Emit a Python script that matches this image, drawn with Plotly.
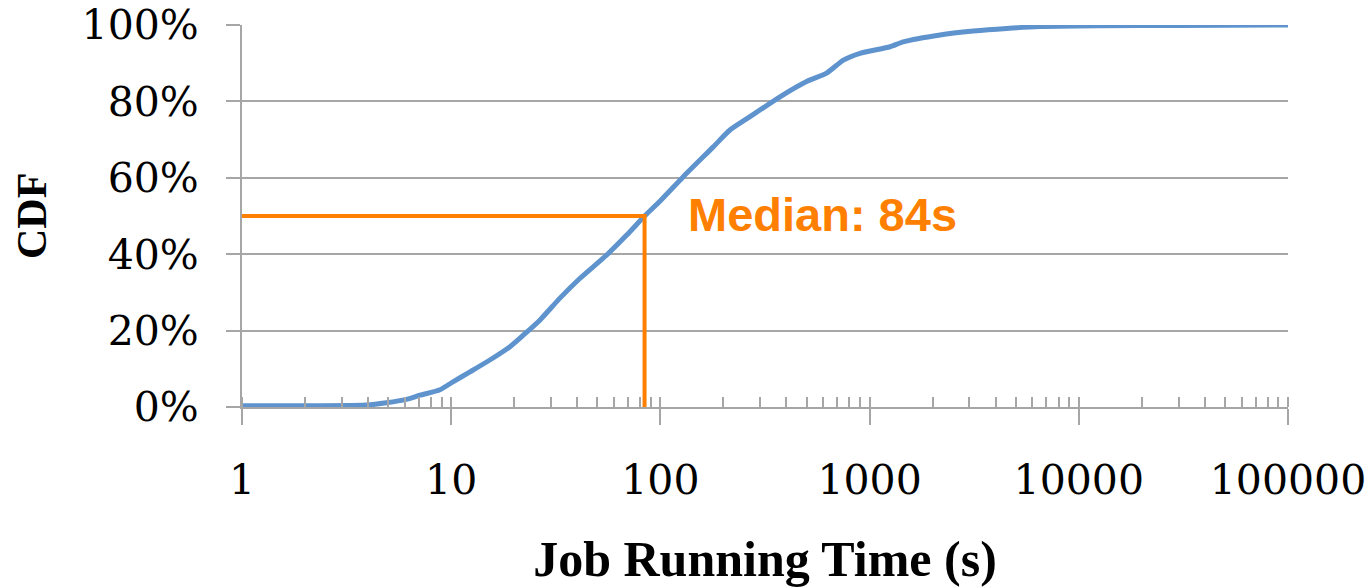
import plotly.graph_objects as go

# job running time (s) vs CDF
run_time = [1, 3.95, 4.9, 6.1, 7.1, 8.84, 10.2, 12.3, 15.3, 19.1, 22.1, 26.6, 33.1, 41.3,
            55.4, 69, 84, 100, 128.7, 179, 215, 268, 373, 500, 623, 749, 900, 1253,
            1449, 2173, 3131, 4520, 6530, 12600, 30000, 100000]
cdf = [0.003, 0.005, 0.011, 0.02, 0.031, 0.045, 0.066, 0.092, 0.123, 0.158, 0.188, 0.228,
       0.285, 0.337, 0.398, 0.45, 0.5, 0.54, 0.603, 0.681, 0.725, 0.76, 0.812, 0.852,
       0.874, 0.908, 0.926, 0.943, 0.956, 0.974, 0.984, 0.991, 0.996, 0.998, 0.999, 1.0]

median_s = 84
median_cdf = 0.5
x_min = 1
tick_vals = [1, 10, 100, 1000, 10000, 100000]
tick_text = ["1", "10", "100", "1000", "10000", "100000"]

BLUE = "#5E93CD"
ORANGE = "#FF8000"
GRAY = "#A6A6A6"
TICK_FONT = dict(family="DejaVu Serif", size=41, color="black")
TITLE_FONT = dict(family="Liberation Serif", size=50, color="black")

fig = go.Figure()
fig.add_trace(go.Scatter(x=run_time, y=cdf, mode="lines",
                         line=dict(color=BLUE, width=5, shape="spline", smoothing=0.6),
                         showlegend=False))
fig.add_trace(go.Scatter(x=[x_min, median_s, median_s], y=[median_cdf, median_cdf, 0],
                         mode="lines", line=dict(color=ORANGE, width=4), showlegend=False))

fig.add_annotation(x=2.122, y=median_cdf, xref="x", yref="y", xanchor="left", yanchor="middle",
                   text="<b>Median: %ds</b>" % median_s, showarrow=False, yshift=2,
                   font=dict(family="Liberation Sans", size=47, color=ORANGE))

# y title as an annotation, standoff gets clamped by the margin otherwise
fig.add_annotation(x=0, y=0.5, xref="paper", yref="paper", xanchor="center", yanchor="middle",
                   xshift=-210, textangle=-90, text="<b>CDF</b>", showarrow=False,
                   font=dict(family="Liberation Serif", size=42, color="black"))

fig.update_xaxes(type="log", range=[0, 5], tickvals=tick_vals, ticktext=tick_text,
                 showgrid=False, showline=True, linecolor=GRAY, linewidth=2,
                 ticks="outside", ticklen=16, tickwidth=2, tickcolor=GRAY,
                 ticklabelstandoff=20, tickfont=TICK_FONT, automargin=False,
                 ticklabeloverflow="allow",
                 minor=dict(ticks="inside", ticklen=10, tickwidth=2, tickcolor=GRAY,
                            dtick="D1", showgrid=False),
                 title=dict(text="<b>Job Running Time (s)</b>", font=TITLE_FONT, standoff=38))
fig.update_yaxes(range=[0, 1], dtick=0.2, tickformat=".0%", showgrid=True,
                 gridcolor=GRAY, gridwidth=2, showline=True, linecolor=GRAY, linewidth=2,
                 ticks="outside", ticklen=14, tickwidth=2, tickcolor=GRAY,
                 ticklabelstandoff=19, tickfont=TICK_FONT, zeroline=False, automargin=False,
                 ticklabeloverflow="allow")

fig.update_layout(width=1371, height=588, margin=dict(l=242, r=83, t=25, b=181),
                  plot_bgcolor="white", paper_bgcolor="white")

# drop the default 8px body margin so the figure fills the window
fig.write_html("out.html", config={"displayModeBar": False},
               post_script="document.body.style.margin = '0';")
